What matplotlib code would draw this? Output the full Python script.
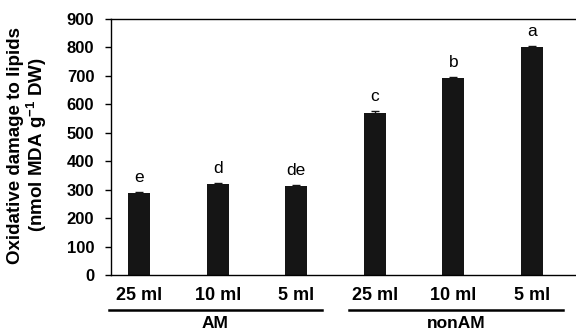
import matplotlib.pyplot as plt
import matplotlib.transforms as mtransforms
import numpy as np

plt.rcParams['font.family'] = ['Liberation Sans', 'DejaVu Sans']
plt.rcParams['mathtext.fontset'] = 'custom'
plt.rcParams['mathtext.rm'] = 'Liberation Sans:bold'
plt.rcParams['mathtext.default'] = 'rm'

# data
doses = ["25 ml", "10 ml", "5 ml", "25 ml", "10 ml", "5 ml"]
mda = [288, 320, 313, 570, 692, 800]
err = [5, 5, 5, 6, 5, 5]
letters = ["e", "d", "de", "c", "b", "a"]
groups = ["AM", "nonAM"]

x = np.arange(len(mda))

fig = plt.figure(figsize=(5.76, 3.33), dpi=100)
ax = fig.add_axes([0.1927, 0.174, 0.8073, 0.769])

ax.bar(x, mda, width=0.28, color='#151515', yerr=err,
       error_kw=dict(ecolor='#151515', capsize=3, elinewidth=1, capthick=1))

for xi, v, e, l in zip(x, mda, err, letters):
    ax.annotate(l, (xi, v + e), xytext=(0, 5), textcoords='offset points',
                ha='center', va='bottom', fontsize=12.5)

ax.set_xlim(-0.36, 5.56)
ax.set_ylim(0, 900)
ax.set_yticks(range(0, 901, 100))
ax.set_yticklabels([str(v) for v in range(0, 901, 100)], fontweight='bold', fontsize=12)
ax.set_xticks([])
ax.tick_params(axis='y', direction='out', length=4, width=1, pad=8)
ax.spines['right'].set_visible(False)
for s in ['left', 'top', 'bottom']:
    ax.spines[s].set_linewidth(1)

# y label placed by its centre
fig.text(28 / 576, 1 - 145 / 333, "Oxidative damage to lipids\n(nmol MDA g$^{-1}$ DW)",
         rotation=90, ha='center', va='center', multialignment='center',
         fontsize=13.5, fontweight='bold', linespacing=1.05)

trans = mtransforms.blended_transform_factory(ax.transData, ax.transAxes)
for xi, d in zip(x, doses):
    ax.text(xi, -0.08, d, transform=trans, ha='center', va='center',
            fontsize=13, fontweight='bold')

spans = [(-0.39, 2.33), (2.67, 5.39)]
for (a, b), g in zip(spans, groups):
    ax.plot([a, b], [-0.137, -0.137], transform=trans, color='black', lw=1.8, clip_on=False)
    ax.text((a + b) / 2, -0.19, g, transform=trans, ha='center', va='center',
            fontsize=12.5, fontweight='bold')

fig.savefig("out.png", dpi=100)
